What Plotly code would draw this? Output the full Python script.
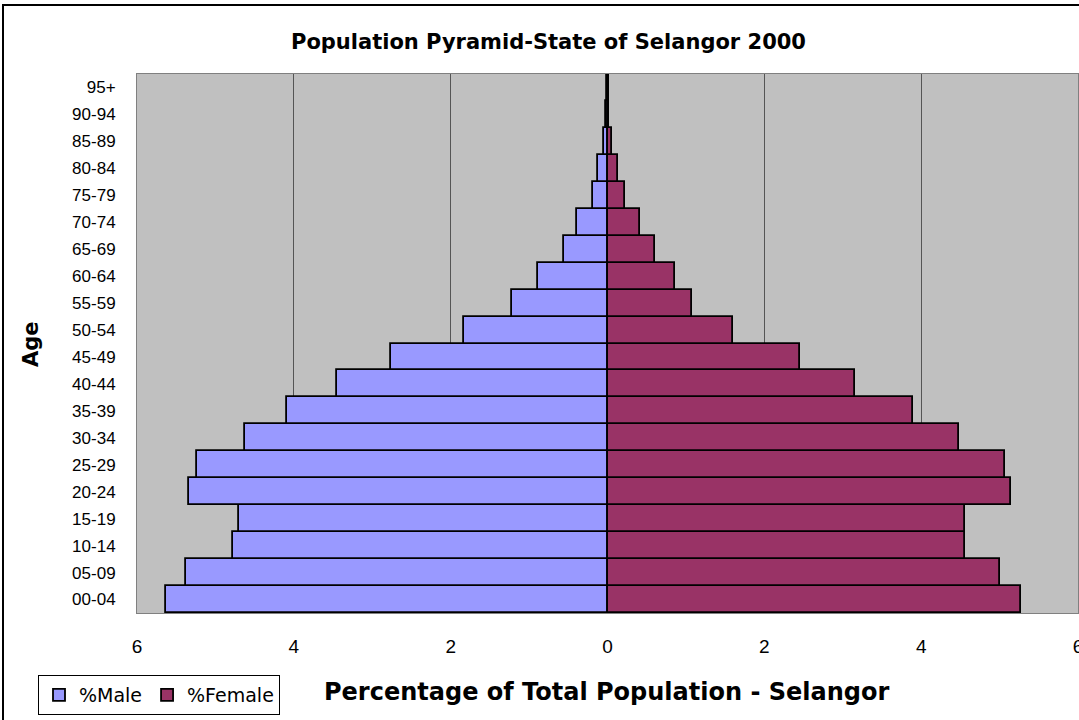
import plotly.graph_objects as go

age_groups = ["00-04", "05-09", "10-14", "15-19", "20-24", "25-29", "30-34", "35-39",
              "40-44", "45-49", "50-54", "55-59", "60-64", "65-69", "70-74", "75-79",
              "80-84", "85-89", "90-94", "95+"]
male_pct = [5.63, 5.38, 4.77, 4.70, 5.34, 5.24, 4.62, 4.09,
            3.45, 2.76, 1.83, 1.22, 0.88, 0.56, 0.39, 0.19,
            0.12, 0.05, 0.02, 0.01]
female_pct = [5.27, 5.00, 4.56, 4.56, 5.15, 5.07, 4.48, 3.90,
              3.16, 2.45, 1.60, 1.08, 0.86, 0.61, 0.42, 0.22,
              0.13, 0.06, 0.02, 0.01]
tick_vals = [-6, -4, -2, 0, 2, 4, 6]
tick_text = ["6", "4", "2", "0", "2", "4", "6"]

FONT = "Liberation Sans, Arial, sans-serif"
WIDE = "DejaVu Sans, Verdana, sans-serif"

fig = go.Figure()
fig.add_trace(go.Bar(
    y=age_groups, x=[-v for v in male_pct], orientation="h", name="%Male",
    marker=dict(color="#9999FF", line=dict(color="black", width=1.8)),
    customdata=male_pct, hovertemplate="%{y}: %{customdata}%<extra>%Male</extra>",
))
fig.add_trace(go.Bar(
    y=age_groups, x=female_pct, orientation="h", name="%Female",
    marker=dict(color="#993366", line=dict(color="black", width=1.8)),
))

L, R, T, B = 137, 1078, 74, 613
PW, PH = R - L, B - T


def px(x):
    return (x - L) / PW


def py(y):
    return (B - y) / PH


fig.update_layout(
    width=1079, height=720,
    margin=dict(l=L, r=1079 - R, t=T, b=720 - B, autoexpand=False),
    paper_bgcolor="white", plot_bgcolor="#C0C0C0",
    barmode="relative", bargap=0,
    font=dict(family=FONT, color="black"),
    showlegend=True,
    legend=dict(
        orientation="h", x=px(38), y=py(675), xanchor="left", yanchor="top",
        bgcolor="white", bordercolor="black", borderwidth=1,
        font=dict(size=19, family=WIDE), itemwidth=30, traceorder="normal",
    ),
    xaxis=dict(
        range=[-6, 6], tickvals=tick_vals, ticktext=tick_text,
        showgrid=True, gridcolor="#555555", gridwidth=1,
        zeroline=True, zerolinecolor="black", zerolinewidth=3,
        showline=True, mirror=True, linecolor="#808080", linewidth=1,
        tickfont=dict(size=19, family=FONT), ticks="", ticklabelstandoff=16,
        ticklabeloverflow="allow", fixedrange=True,
    ),
    yaxis=dict(
        type="category", categoryorder="array", categoryarray=age_groups,
        range=[-0.5, len(age_groups) - 0.5],
        showgrid=False, showline=True, mirror=True, linecolor="#808080", linewidth=1,
        tickfont=dict(size=17, family=FONT), ticks="", ticklabelstandoff=17,
        fixedrange=True,
    ),
    shapes=[
        dict(type="rect", xref="paper", yref="paper",
             x0=px(3), x1=px(1090), y0=py(730), y1=py(5),
             line=dict(color="black", width=2), fillcolor="rgba(0,0,0,0)", layer="below"),
    ],
    annotations=[
        dict(text="<b>Population Pyramid-State of Selangor 2000</b>", xref="paper", yref="paper",
             x=px(548), y=py(42), xanchor="center", yanchor="middle", showarrow=False,
             font=dict(size=21, family=WIDE)),
        dict(text="<b>Percentage of Total Population - Selangor</b>", xref="paper", yref="paper",
             x=px(606), y=py(692), xanchor="center", yanchor="middle", showarrow=False,
             font=dict(size=24, family=WIDE)),
        dict(text="<b>Age</b>", xref="paper", yref="paper", textangle=-90,
             x=px(31), y=py(344), xanchor="center", yanchor="middle", showarrow=False,
             font=dict(size=21, family=WIDE)),
    ],
)

fig.write_html("out.html", config={"displayModeBar": False},
               post_script="document.body.style.margin='0px';document.body.style.overflow='hidden';")
